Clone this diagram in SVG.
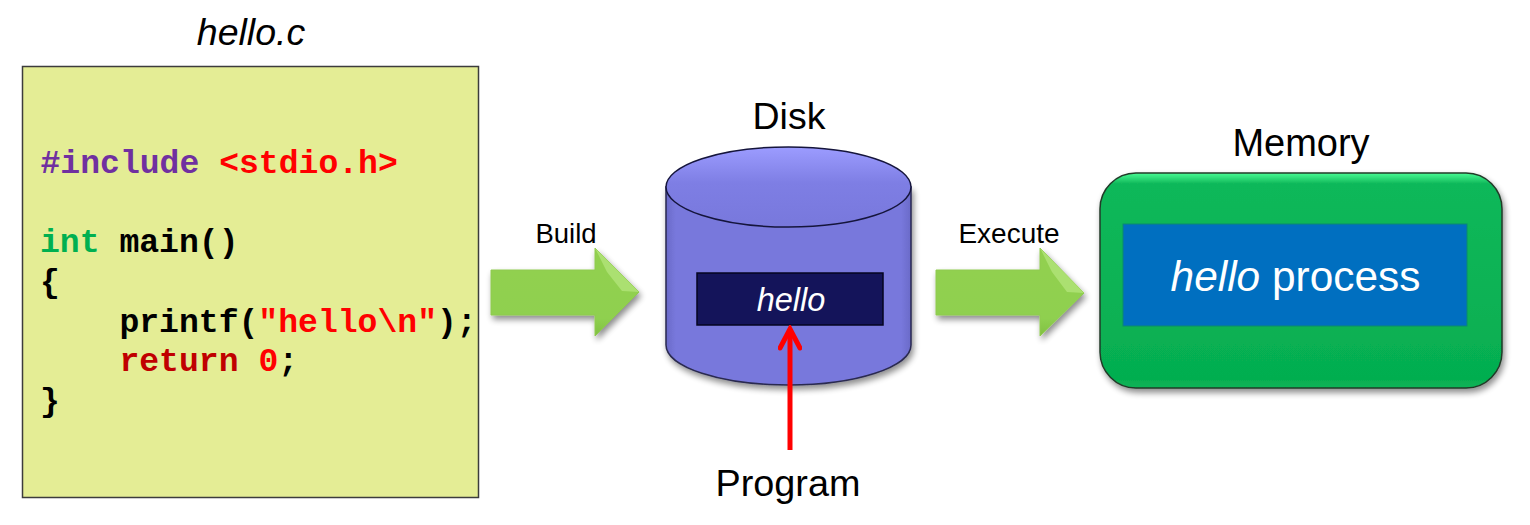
<svg xmlns="http://www.w3.org/2000/svg" width="1530" height="525" viewBox="0 0 1530 525">
<style>
text{font-family:"Liberation Sans",Arial,sans-serif;fill:#000}
.code{font-family:"Liberation Mono","Courier New",monospace;font-weight:bold;font-size:33.100px;white-space:pre}
.pu{fill:#7030a0}.re{fill:#ff0000}.dr{fill:#c00000}.gr{fill:#00b050}
.arrow{fill:url(#ag);stroke:#8fca50;stroke-width:1;filter:url(#sh)}
.facet{fill:#b4e67c;opacity:.75}
</style>
<defs>
<filter id="sh" x="-20%" y="-20%" width="140%" height="140%"><feGaussianBlur in="SourceAlpha" stdDeviation="3"/><feOffset dx="2" dy="4"/><feComponentTransfer><feFuncA type="linear" slope=".45"/></feComponentTransfer><feMerge><feMergeNode/><feMergeNode in="SourceGraphic"/></feMerge></filter>
<linearGradient id="ag" x1="0" y1="0" x2="0" y2="1"><stop offset="0" stop-color="#92d050"/><stop offset=".8" stop-color="#8fd050"/><stop offset="1" stop-color="#80c040"/></linearGradient>
<linearGradient id="top" x1="0" y1="0" x2="0" y2="1"><stop offset="0" stop-color="#9c9cff"/><stop offset=".45" stop-color="#7e7ee4"/><stop offset="1" stop-color="#7878dc"/></linearGradient>
<linearGradient id="mem" x1="0" y1="0" x2="0" y2="1"><stop offset="0" stop-color="#47fb93"/><stop offset=".05" stop-color="#10b85a"/><stop offset=".96" stop-color="#05ae50"/><stop offset="1" stop-color="#10b458"/></linearGradient>
<linearGradient id="cyl" x1="0" y1="0" x2="1" y2="0"><stop offset="0" stop-color="#6a6ac8"/><stop offset=".04" stop-color="#7878dc"/><stop offset=".96" stop-color="#7878dc"/><stop offset="1" stop-color="#6a6ac8"/></linearGradient>
<marker id="rh" markerUnits="userSpaceOnUse" markerWidth="26" markerHeight="24" refX="22" refY="12" orient="auto"><path d="M3 2L22 12L3 22" fill="none" stroke="#ff0000" stroke-width="5" stroke-linecap="round" stroke-linejoin="miter"/></marker>
</defs>
<rect width="1530" height="525" fill="#fff"/>

<g id="source">
<text x="251" y="45" font-size="37.500" font-style="italic" text-anchor="middle">hello.c</text>
<rect x="22.500" y="66.500" width="456" height="431" fill="#e4ed95" stroke="#3c3c3c" stroke-width="1.500"/>
<text class="code" y="172.500" x="40.500"><tspan class="pu">#include</tspan> <tspan class="re">&lt;stdio.h&gt;</tspan></text>
<text class="code" y="252" x="40"><tspan class="gr">int</tspan> main()</text>
<text class="code" y="292" x="40">{</text>
<text class="code" y="332" x="40">    printf(<tspan class="re">"hello\n"</tspan>);</text>
<text class="code" y="371" x="40">    <tspan class="dr">return</tspan> <tspan class="re">0</tspan>;</text>
<text class="code" y="411" x="40">}</text>
</g>

<g id="disk">
<text x="789" y="129" font-size="37.500" text-anchor="middle">Disk</text>
<path d="M666 187V345C666 367 721 385 788.500 385C856 385 911 367 911 345V187Z" fill="url(#cyl)" stroke="#2a2a50" stroke-width="1.500" filter="url(#sh)"/>
<ellipse cx="788.500" cy="187" rx="122.500" ry="40" fill="url(#top)" stroke="#15153c" stroke-width="1.500"/>
<rect x="697" y="273" width="186" height="52" fill="#14145a" stroke="#050520" stroke-width="1.500"/>
<text x="791" y="311" font-size="32.500" font-style="italic" text-anchor="middle" style="fill:#fff">hello</text>
</g>

<g id="memory">
<text x="1301" y="156" font-size="38" text-anchor="middle">Memory</text>
<rect x="1100" y="173" width="402" height="215" rx="36" fill="url(#mem)" stroke="#203a28" stroke-width="1.500" filter="url(#sh)"/>
<rect x="1123" y="224" width="344" height="102" fill="#006fc0" stroke="#0a8a70" stroke-width="1"/>
<text x="1295.500" y="291" font-size="42.400" text-anchor="middle" style="fill:#fff"><tspan font-style="italic">hello</tspan> process</text>
</g>

<g id="connectors">
<g id="build-arrow">
<path class="arrow" d="M491 270H595V248L639 292L595 336V315H491Z"/>
<path class="facet" d="M595 248L639 292L622 291L607 272Z"/>
</g>
<g id="execute-arrow">
<path class="arrow" d="M936 270H1040V248L1084 293L1040 336V315H936Z"/>
<path class="facet" d="M1040 248L1084 293L1067 292L1052 272Z"/>
</g>
<line x1="790" y1="450" x2="790" y2="329" stroke="#ff0000" stroke-width="5" marker-end="url(#rh)"/>
</g>
<text x="566" y="243" font-size="27.500" text-anchor="middle">Build</text>
<text x="1009" y="243" font-size="28" text-anchor="middle">Execute</text>
<text x="788" y="496" font-size="37.800" text-anchor="middle" id="program-label">Program</text>
</svg>
